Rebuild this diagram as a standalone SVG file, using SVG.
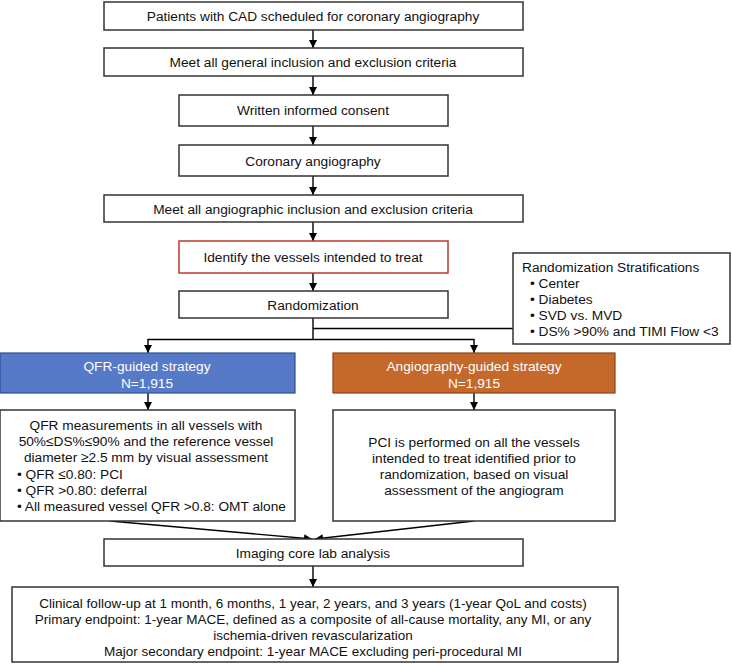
<svg xmlns="http://www.w3.org/2000/svg" width="732" height="664" viewBox="0 0 732 664">
<defs>
<marker id="ah" viewBox="0 0 8 8" refX="8" refY="4" markerWidth="8" markerHeight="8" markerUnits="userSpaceOnUse" orient="auto">
<path d="M0,0 L8,4 L0,8 z" fill="#000"/>
</marker>
<style>
.box{fill:#fff;stroke:#333;stroke-width:1.5}
.red{fill:#fff;stroke:#c0392b;stroke-width:1.5}
.blue{fill:#5679c8;stroke:#2f4f8f;stroke-width:1.2}
.orange{fill:#c4682c;stroke:#8a4518;stroke-width:1.2}
text{font-family:"Liberation Sans",Arial,sans-serif;font-size:13.7px;fill:#111}
.c{text-anchor:middle;dominant-baseline:central}
.l{text-anchor:start;dominant-baseline:central}
.w{fill:#fff}
.f{font-size:13.5px}
.ln{fill:none;stroke:#000;stroke-width:1.4}
.ar{fill:none;stroke:#000;stroke-width:1.4;marker-end:url(#ah)}
</style>
</defs>
<rect width="732" height="664" fill="#fff"/>
<g id="connectors">
<line class="ar" x1="313" y1="30" x2="313" y2="48"/>
<line class="ar" x1="313" y1="76" x2="313" y2="95"/>
<line class="ar" x1="313" y1="126" x2="313" y2="145"/>
<line class="ar" x1="313" y1="176" x2="313" y2="195"/>
<line class="ar" x1="313" y1="222" x2="313" y2="241"/>
<line class="ar" x1="313" y1="273" x2="313" y2="291"/>
<line class="ln" x1="313" y1="318" x2="313" y2="340"/>
<line class="ln" x1="313" y1="328.5" x2="513" y2="328.5"/>
<line class="ln" x1="147.5" y1="339.5" x2="474.5" y2="339.5"/>
<line class="ar" x1="148" y1="339" x2="148" y2="353"/>
<line class="ar" x1="474" y1="339" x2="474" y2="353"/>
<line class="ar" x1="148" y1="393" x2="148" y2="410"/>
<line class="ar" x1="474" y1="393" x2="474" y2="410"/>
<line class="ar" x1="110" y1="521" x2="312" y2="539"/>
<line class="ar" x1="474" y1="521" x2="315" y2="539"/>
<line class="ar" x1="313" y1="566" x2="313" y2="587"/>
</g>
<g id="n1"><rect class="box" x="104" y="2" width="419" height="28"/><text class="c" x="313" y="16">Patients with CAD scheduled for coronary angiography</text></g>
<g id="n2"><rect class="box" x="104" y="48" width="419" height="28"/><text class="c" x="313" y="62">Meet all general inclusion and exclusion criteria</text></g>
<g id="n3"><rect class="box" x="179" y="95" width="269" height="31"/><text class="c" x="313" y="110">Written informed consent</text></g>
<g id="n4"><rect class="box" x="179" y="145" width="269" height="31"/><text class="c" x="313" y="161">Coronary angiography</text></g>
<g id="n5"><rect class="box" x="104" y="195" width="419" height="27"/><text class="c" x="313" y="209">Meet all angiographic inclusion and exclusion criteria</text></g>
<g id="n6"><rect class="red" x="179" y="241" width="269" height="32"/><text class="c" x="313" y="257">Identify the vessels intended to treat</text></g>
<g id="n7"><rect class="box" x="179" y="291" width="269" height="27"/><text class="c" x="313" y="305">Randomization</text></g>
<g id="strat"><rect class="box" x="513" y="253" width="217" height="91"/>
<text class="l" x="522" y="267">Randomization Stratifications</text>
<text class="l" x="530" y="283">• Center</text>
<text class="l" x="530" y="299">• Diabetes</text>
<text class="l" x="530" y="315">• SVD vs. MVD</text>
<text class="l" x="530" y="331">• DS% &gt;90% and TIMI Flow &lt;3</text>
</g>
<g id="qfr"><rect class="blue" x="0" y="353" width="295" height="40"/>
<text class="c w" x="147" y="366">QFR-guided strategy</text>
<text class="c w" x="147" y="383">N=1,915</text></g>
<g id="angio"><rect class="orange" x="333" y="353" width="282" height="40"/>
<text class="c w" x="474" y="366">Angiography-guided strategy</text>
<text class="c w" x="474" y="383">N=1,915</text></g>
<g id="qfrtext"><rect class="box" x="0" y="410" width="295" height="111"/>
<text class="c" x="146" y="425">QFR measurements in all vessels with</text>
<text class="c" x="146" y="441">50%≤DS%≤90% and the reference vessel</text>
<text class="c" x="146" y="457">diameter ≥2.5 mm by visual assessment</text>
<text class="l" x="17" y="474">• QFR ≤0.80: PCI</text>
<text class="l" x="17" y="490">• QFR &gt;0.80: deferral</text>
<text class="l" x="17" y="506">• All measured vessel QFR &gt;0.8: OMT alone</text>
</g>
<g id="angiotext"><rect class="box" x="333" y="410" width="282" height="111"/>
<text class="c" x="474" y="442">PCI is performed on all the vessels</text>
<text class="c" x="474" y="458">intended to treat identified prior to</text>
<text class="c" x="474" y="474">randomization, based on visual</text>
<text class="c" x="474" y="490">assessment of the angiogram</text>
</g>
<g id="imaging"><rect class="box" x="104" y="539" width="419" height="27"/><text class="c" x="313" y="553">Imaging core lab analysis</text></g>
<g id="followup"><rect class="box" x="12" y="587" width="606" height="75"/>
<text class="c f" x="313" y="603">Clinical follow-up at 1 month, 6 months, 1 year, 2 years, and 3 years (1-year QoL and costs)</text>
<text class="c f" x="313" y="619">Primary endpoint: 1-year MACE, defined as a composite of all-cause mortality, any MI, or any</text>
<text class="c f" x="313" y="635">ischemia-driven revascularization</text>
<text class="c f" x="313" y="651">Major secondary endpoint: 1-year MACE excluding peri-procedural MI</text>
</g>
</svg>
